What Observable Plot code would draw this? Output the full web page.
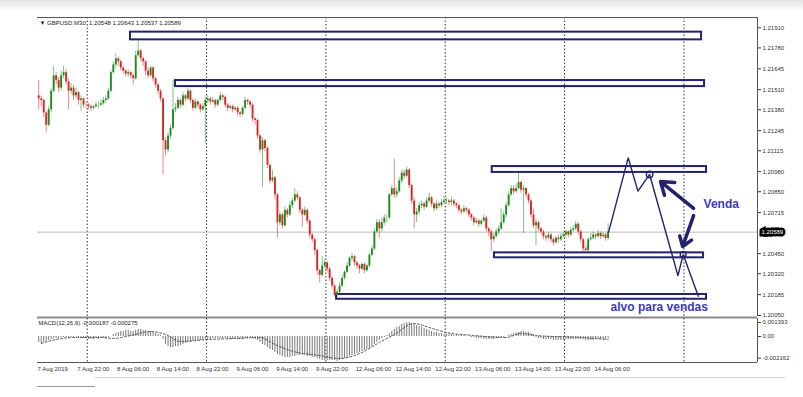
<!DOCTYPE html>
<html><head><meta charset="utf-8">
<script src="https://cdn.jsdelivr.net/npm/d3@7"></script>
<script src="https://cdn.jsdelivr.net/npm/@observablehq/plot@0.6"></script>
<style>
html,body{margin:0;padding:0;background:#fff;}
#wrap{position:relative;width:803px;height:397px;overflow:hidden;font-family:"Liberation Sans",Arial,sans-serif;background:#fff;}
#topband{position:absolute;left:0;top:0;width:803px;height:12px;background:linear-gradient(#e4e4e4,#fff);}
#main{position:absolute;left:0;top:0;}
#macd{position:absolute;left:0;top:318px;}
#foot{position:absolute;left:95px;top:377px;width:690px;height:1px;background:#cfcfcf;}
#foot2{position:absolute;left:37px;top:386px;width:58px;height:1px;background:#999;}
</style></head><body>
<div id="wrap"><div id="topband"></div><div id="main"></div><div id="macd"></div><div id="foot"></div><div id="foot2"></div></div>
<script>
// ---------- DATA (prices in pips above 1.2000; one candle per M30 bar) ----------
const symbolHeader = "\u25BC GBPUSD.M30  1.20548 1.20643 1.20537 1.20589";
const macdHeader = "MACD(12,26,9) -0.000187 -0.000275";
const firstOpen = 147;
const close = [
145,144,136,128,138,150,160,157,152,160,
162,156,150,152,147,149,144,145,141,141,
140,139,140,141,141,142,144,145,150,162,
167,171,169,165,163,161,162,160,158,173,
176,171,169,163,160,165,158,154,150,145,
118,112,121,126,138,139,144,141,147,145,
150,144,139,143,141,138,140,144,145,143,
144,141,144,147,146,141,139,140,138,139,
136,135,139,144,143,141,132,131,121,112,
118,113,102,92,94,83,65,70,63,73,
70,76,79,83,81,73,70,73,66,57,
54,47,34,31,37,39,35,29,24,18,
20,24,29,33,37,42,43,39,37,35,
38,34,37,44,48,59,65,61,65,68,
68,83,87,83,85,92,97,95,99,89,
79,70,72,76,77,75,79,81,77,74,
77,76,78,79,79,78,79,77,76,73,
72,74,73,70,68,65,66,64,66,68,
61,59,54,56,59,61,65,70,76,83,
87,85,87,91,86,87,83,79,70,63,
65,61,59,56,55,57,54,52,55,54,
56,57,59,57,60,61,64,59,54,48,
47,54,55,57,56,58,56,57,54.8,58.9];
const high = [
157,147,145,137,140,152,166,162,159,163,
166,164,158,155,154,152,150,147,146,143,
142,141,141,143,143,144,146,147,152,163,
169,174,172,170,166,164,164,163,161,176,
183,177,172,170,165,166,166,159,155,151,
146,120,123,128,157,142,146,145,149,148,
152,151,145,145,144,142,142,146,147,146,
146,145,145,149,148,147,142,141,141,140,
140,137,140,146,145,144,142,133,132,122,
120,119,114,103,99,95,84,72,71,75,
74,78,81,87,85,82,74,75,74,67,
58,55,48,35,43,41,40,36,30,25,
22,26,31,34,39,43,45,44,40,38,
39,39,38,45,50,61,67,67,68,70,
70,84,89,106,88,94,99,99,101,100,
90,81,74,78,79,78,81,84,82,78,
79,78,80,82,81,80,81,80,78,77,
74,76,75,74,71,69,68,67,67,70,
69,62,60,58,61,63,74,72,78,85,
89,89,90,97,92,89,88,84,80,74,
67,66,62,60,57,59,58,55,56,57,
58,59,60,60,62,63,66,65,60,55,
50,55,58,59,58,60,59,59,58,64.3];
const low = [
138,140,133,123,127,136,149,154,149,150,
158,154,138,148,144,145,141,137,139,139,
138,137,138,139,139,140,141,142,144,149,
161,165,166,163,161,159,159,158,154,157,
172,169,166,160,158,159,156,152,148,143,
96,108,110,119,125,136,138,139,140,143,
144,142,137,138,139,136,137,116,142,141,
142,139,140,143,144,139,137,138,136,137,
134,133,134,138,141,139,130,128,119,110,
88,111,100,90,91,80,55,63,61,62,
68,69,74,78,79,71,62,69,64,55,
52,44,31,26,30,35,33,27,22,17,
17,19,23,28,32,36,40,37,35,32,
34,32,33,36,43,47,58,55,59,63,
65,67,82,81,81,84,90,93,94,87,
77,61,65,70,74,73,74,78,75,72,
73,74,75,77,77,76,76,75,74,71,
70,71,71,68,66,63,64,62,63,65,
59,56,46,52,55,57,60,64,68,75,
82,83,84,86,84,58,81,77,68,61,
50,59,57,54,53,54,52,50,51,52,
53,55,55,55,56,59,60,57,52,46,
45,46,53,54,54,55,54,55,53,53.7];
// MACD histogram per bar (units of 0.0001)
const macdHist = [
-6,-7,-6,-5,-4,-3,-2,-2,-2,-1,-1,-1,-2,-1,-1,-1,-1,-2,-2,-2,
-3,-3,-3,-2,-3,-2,-2,-2,-1,0,2,
3,4,5,5,6,6,5,5,6,7,7,6,6,5,5,4,
3,2,1,-3,
-8,-10,-11,-11,-10,-10,-9,
-8,-7,-6,-6,-5,-5,-4,-4,-4,-3,-3,
-3,-2,-2,-2,-2,-2,-2,-3,-3,-3,-3,-3,-3,-3,-2,-2,-2,-2,-3,-4,-6,
-8,-9,-11,-13,-14,-16,
-18,-19,-20,-21,-21,-21,-20,-20,-19,
-19,-19,-19,-20,-20,-21,-21,
-22,-23,-24,-24,-24,-24,-24,-24,-25,-24,
-23,-22,-21,-20,-19,-18,-17,-16,-15,-14,-13,-12,-10,-8,-6,
-4,-2,-1,1,3,5,
7,9,10,12,13,14,14,13,
12,11,10,9,8,7,6,5,4,4,3,3,
2,2,2,2,1,1,1,1,1,0,0,-1,-1,
-2,-2,-2,-3,-3,-3,-3,-3,-2,-2,-1,-1,0,1,2,
3,4,4,5,5,4,4,3,2,
-1,-2,-2,-3,-3,-3,-3,-4,-4,-4,-4,-4,-3,-3,-3,-3,-3,-3,-3,-3,-4,-4,-4,-4,-3,-3,-3,-3,-3,-2];
// MACD signal line read at bar positions
const signalBars = [1,9,15,25,30,37,45,51,57,68,79,89,95,101,113,121,129,137,143,151,157,164,175,188,194,200,218,229];
const signalVals = [-7,-2,-1,-1,-2,1,5,2,-5,-3,-2,-1,-8,-14,-19,-22,-17,-6,2,13,9,4,1,-1,3,1,-1,-3];
// axis ticks
const yTickLabels = ["1.21910","1.21780","1.21645","1.21510","1.21380","1.21245","1.21115","1.20980","1.20850","1.20715","1.20450","1.20320","1.20185","1.20050"];
const lastPrice = 1.20589;
const macdTickVals = [13.93, 0, -21.62];
const macdTickLabels = ["0.001393","0.00","-0.002162"];
const xLabelBars = [0,16,32,48,64,80,96,112,128,144,160,176,192,208,224];
const xLabels = ["7 Aug 2019","7 Aug 22:00","8 Aug 06:00","8 Aug 14:00","8 Aug 22:00","9 Aug 06:00","9 Aug 14:00","9 Aug 22:00","12 Aug 06:00","12 Aug 14:00","12 Aug 22:00","13 Aug 06:00","13 Aug 14:00","13 Aug 22:00","14 Aug 06:00"];
const gridBars = [20,68,116,164,212,260];
// drawn objects (bar position, pips)
const boxX1 = [37.4, 55.5, 182.9, 183.8, 120.3];
const boxX2 = [267.1, 268.3, 269.1, 267.9, 269.1];
const boxTop = [188.2, 156.9, 101.3, 45.5, 18.6];
const boxBot = [183.2, 153.0, 97.5, 42.3, 15.5];
const projX = [229.7, 237.6, 241.5, 246.2, 257.6, 259.7, 265.8];
const projY = [58.9, 106.9, 85.4, 96.2, 30.8, 44.4, 17.5];
const circleX = [246.2, 259.7], circleY = [96.2, 44.4], circleR = [5, 4];
const arrowFrom = [[263.9, 74.2], [263.9, 69.6]];
const arrowTo = [[250.6, 91.6], [259.5, 49.6]];
const notes = ["Venda", "alvo para vendas"];
const noteX = [267.9, 230.5], noteY = [77.1, 10.2];

// ---------- BUILD ----------
const P = v => 1.2 + v / 10000;
const xDomain = [0, 289.6];
const yDomain = [P(4.36), P(197.66)];
const navy = "#22226f", textBlue = "#3b3bb8";
const up = "#1f8a1f", down = "#d42a26";
const font = "Liberation Sans, Arial, sans-serif";

const candles = close.map((c, i) => {
  const o = i === 0 ? firstOpen : close[i - 1];
  return {p: i + 0.5, o: P(o), c: P(c), h: P(high[i]), l: P(low[i]), col: c >= o ? up : down};
});
const boxes = boxX1.map((x, i) => ({x1: x, x2: boxX2[i], y1: P(boxBot[i]), y2: P(boxTop[i])}));
const proj = projX.map((x, i) => ({x, y: P(projY[i])}));
const circles = circleX.map((x, i) => ({x, y: P(circleY[i]), r: circleR[i]}));
const arrows = arrowFrom.map((f, i) => ({x1: f[0], y1: P(f[1]), x2: arrowTo[i][0], y2: P(arrowTo[i][1])}));
const noteData = notes.map((t, i) => ({t, x: noteX[i], y: P(noteY[i])}));

const main = Plot.plot({
  width: 803, height: 318,
  marginLeft: 37, marginRight: 46, marginTop: 17, marginBottom: 2,
  x: {domain: xDomain, axis: null},
  y: {domain: yDomain, axis: null, label: null},
  style: {fontFamily: font, background: "transparent", overflow: "visible"},
  marks: [
    Plot.ruleX(gridBars, {stroke: "#333", strokeDasharray: "1.5,2", strokeWidth: 1}),
    Plot.ruleY([lastPrice], {stroke: "#bdbdbd", strokeWidth: 1}),
    Plot.rect(boxes, {x1: "x1", x2: "x2", y1: "y1", y2: "y2", fill: "none", stroke: navy, strokeWidth: 2}),
    Plot.ruleX(candles, {x: "p", y1: "l", y2: "h", stroke: "col", strokeWidth: 1, strokeOpacity: 0.55}),
    Plot.ruleX(candles, {x: "p", y1: "o", y2: "c", stroke: "col", strokeWidth: 1.9}),
    Plot.line(proj, {x: "x", y: "y", stroke: navy, strokeWidth: 1.4}),
    Plot.dot(circles, {x: "x", y: "y", r: "r", stroke: navy, strokeWidth: 1.4, fill: "none"}),
    Plot.arrow(arrows, {x1: "x1", y1: "y1", x2: "x2", y2: "y2", stroke: navy, strokeWidth: 3.5, headLength: 9, headAngle: 70}),
    Plot.text(noteData, {x: "x", y: "y", text: "t", textAnchor: "start", fill: textBlue, fontSize: 12, fontWeight: "bold"}),
    Plot.ruleY([yDomain[1]], {stroke: "#555", strokeWidth: 1}),
    Plot.ruleX([xDomain[1]], {stroke: "#555", strokeWidth: 1}),
    Plot.ruleY([yDomain[0]], {stroke: "#8a8a8a", strokeWidth: 2, dy: 1}),
    Plot.axisY(yTickLabels.map(Number), {anchor: "right", label: null, tickSize: 3, tickPadding: 2, fontSize: 6, color: "#333", tickFormat: d => d.toFixed(5)}),
    Plot.text([lastPrice], {x: () => xDomain[1], y: d => d, text: d => d.toFixed(5), dx: 4, textAnchor: "start", fill: "white", stroke: "black", strokeWidth: 5, strokeLinejoin: "miter", fontSize: 6}),
    Plot.text([symbolHeader], {frameAnchor: "top-left", text: d => d, dx: 2, dy: 5.5, lineAnchor: "middle", textAnchor: "start", fontSize: 6, fill: "#222"})
  ]
});
document.getElementById("main").appendChild(main);

const hist = macdHist.map((v, i) => ({p: i + 0.5, v}));
const signal = signalBars.map((b, i) => ({p: b + 0.5, v: signalVals[i]}));
const macd = Plot.plot({
  width: 803, height: 79,
  marginLeft: 37, marginRight: 46, marginTop: 0, marginBottom: 35,
  x: {domain: xDomain, axis: null},
  y: {domain: [-26, 18], axis: null, label: null},
  style: {fontFamily: font, background: "transparent", overflow: "visible"},
  marks: [
    Plot.ruleX(gridBars, {stroke: "#333", strokeDasharray: "1.5,2", strokeWidth: 1}),
    Plot.ruleX(hist, {x: "p", y1: 0, y2: "v", stroke: "#7a7a7a", strokeWidth: 1}),
    Plot.line(signal, {x: "p", y: "v", stroke: "#555", strokeWidth: 1, strokeDasharray: "2,2", curve: "monotone-x"}),
    Plot.ruleY([-26], {stroke: "#555", strokeWidth: 1}),
    Plot.ruleX([xDomain[1]], {stroke: "#555", strokeWidth: 1}),
    Plot.axisY(macdTickVals, {anchor: "right", label: null, tickSize: 3, tickPadding: 2, fontSize: 6, color: "#333", tickFormat: (d, i) => macdTickLabels[i]}),
    Plot.text(xLabelBars, {x: d => d, text: (d, i) => xLabels[i], frameAnchor: "bottom", dy: 7, lineAnchor: "middle", textAnchor: "start", fontSize: 6, fill: "#333"}),
    Plot.text([macdHeader], {frameAnchor: "top-left", text: d => d, dx: 1, dy: 5, lineAnchor: "middle", textAnchor: "start", fontSize: 6, fill: "#222"})
  ]
});
document.getElementById("macd").appendChild(macd);
</script>
</body></html>
